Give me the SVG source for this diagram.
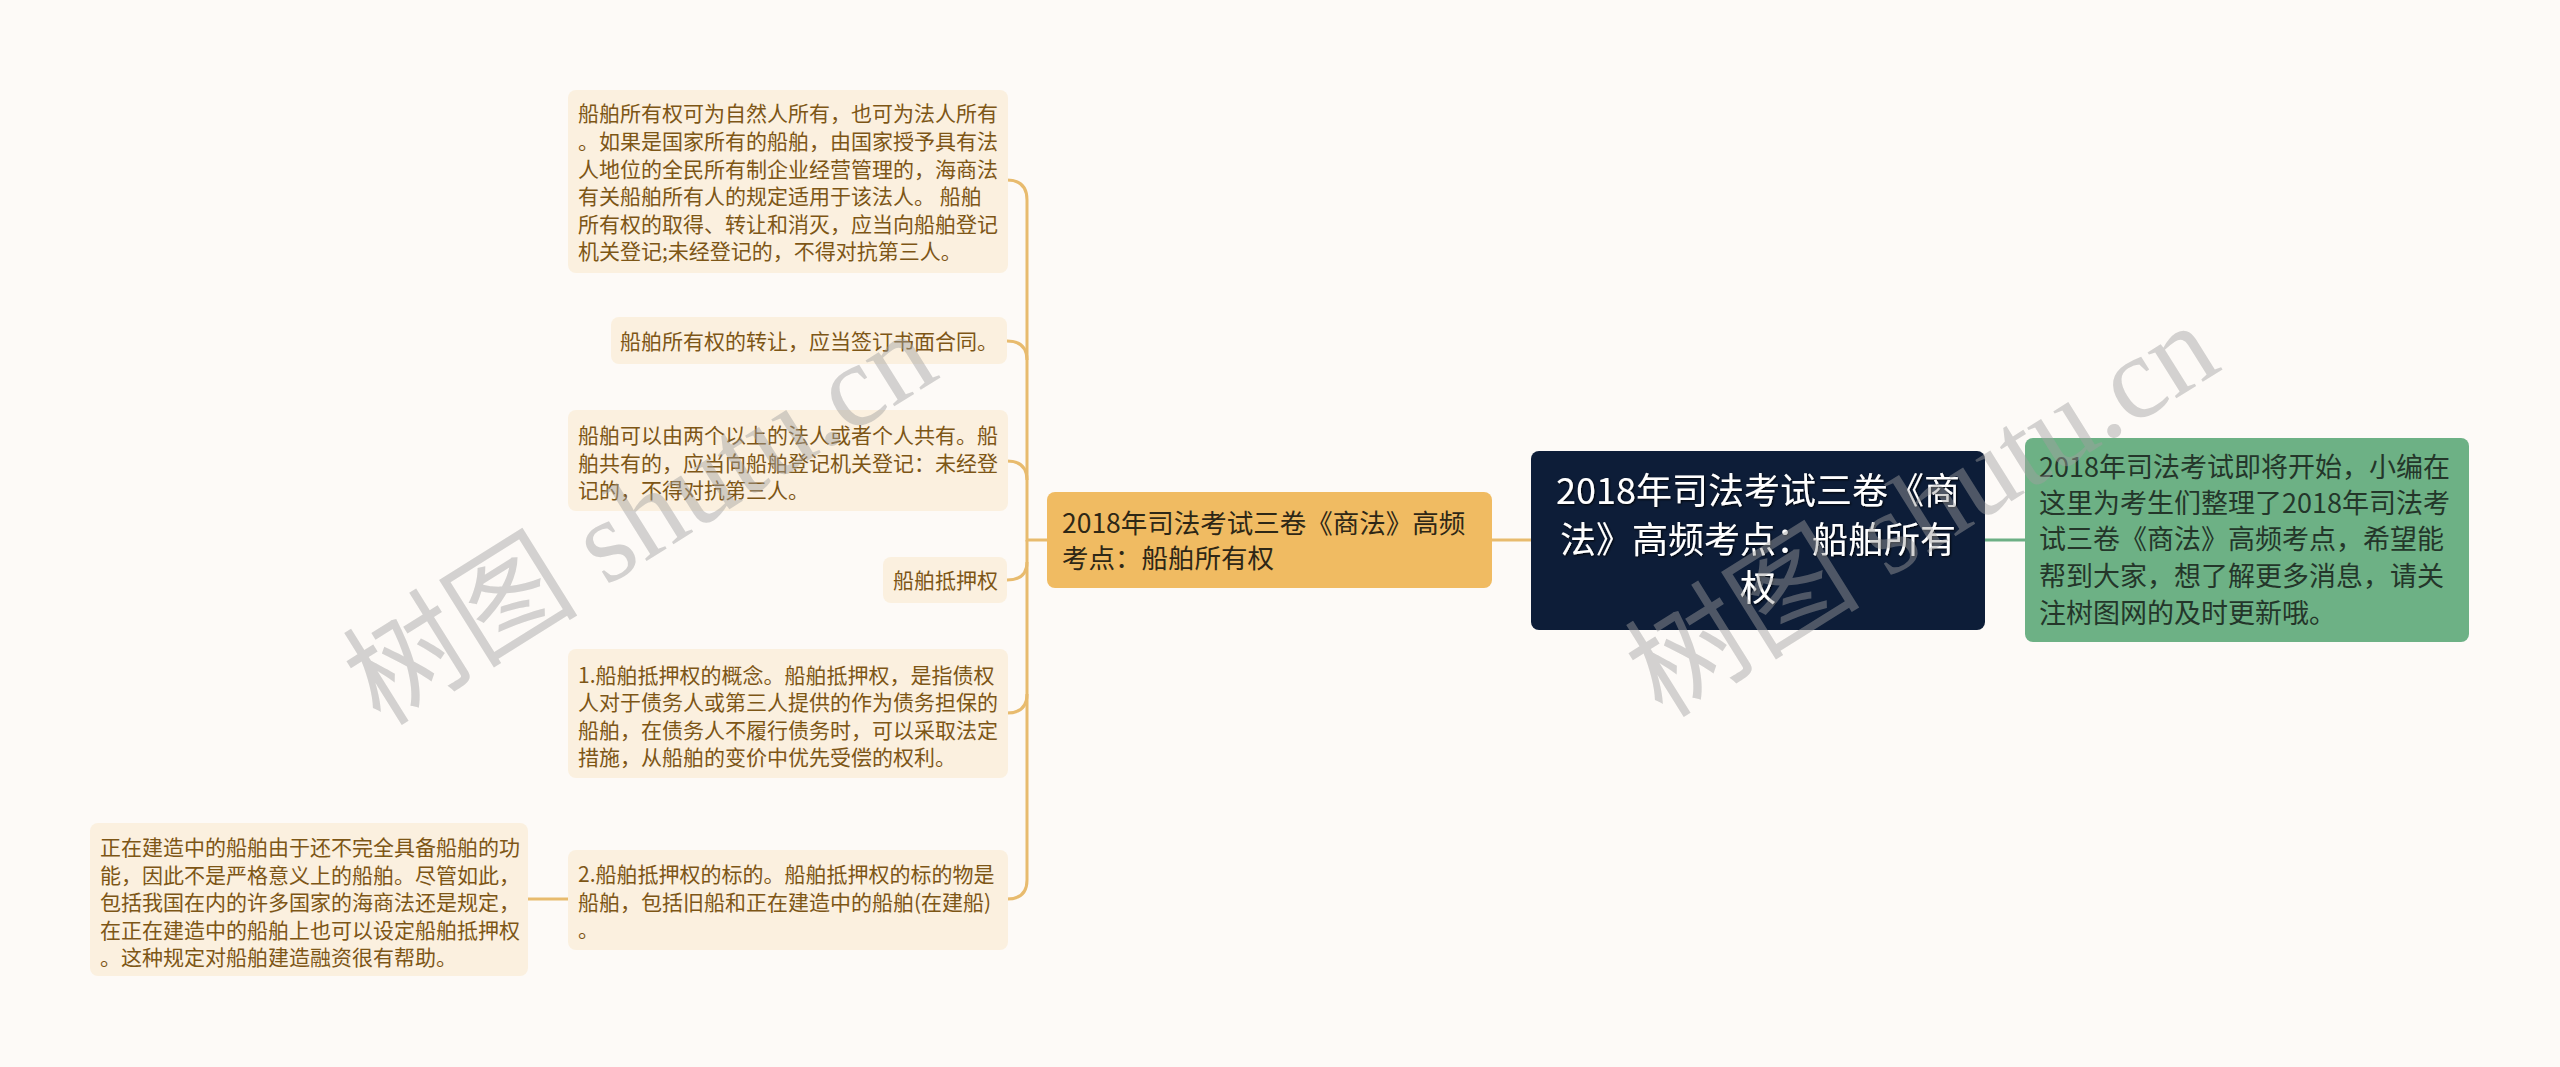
<svg xmlns="http://www.w3.org/2000/svg" width="2560" height="1067" viewBox="0 0 2560 1067">
<defs>
<style>
.bg{fill:#fdfaf7}
.leaf{fill:#fbf0df}
.lt{font-family:"Noto Sans CJK SC","Noto Sans",sans-serif;font-size:21px;fill:#7d5616;white-space:pre}
.conn{fill:none;stroke:#e8bb6e;stroke-width:3}
.gconn{fill:none;stroke:#6daf85;stroke-width:3}
.ot{font-family:"Noto Sans CJK SC","Noto Sans",sans-serif;font-size:26.5px;fill:#2e2716}
.rt{font-family:"Noto Sans CJK SC","Noto Sans",sans-serif;font-size:36px;fill:#ffffff;text-anchor:middle}
.gt{font-family:"Noto Sans CJK SC","Noto Sans",sans-serif;font-size:27px;fill:#24362a}
.wm{font-family:"Liberation Serif","Noto Sans CJK SC",serif;font-size:118px;fill:#a0a0a0;fill-opacity:0.45;text-anchor:middle}
</style>
<filter id="sh" x="-5%" y="-5%" width="110%" height="110%">
<feDropShadow dx="1" dy="1" stdDeviation="0.8" flood-color="#000" flood-opacity="0.9"/>
</filter>
</defs>
<rect class="bg" x="0" y="0" width="2560" height="1067"/>

<g id="connectors">
<path class="conn" d="M1047,540 H1027 V200 Q1027,180 1007,180"/>
<path class="conn" d="M1027,360 Q1027,341 1007,341"/>
<path class="conn" d="M1027,480 Q1027,461 1007,461"/>
<path class="conn" d="M1027,562 Q1027,580 1007,580"/>
<path class="conn" d="M1027,540 V694 Q1027,713 1007,713"/>
<path class="conn" d="M1027,694 V880 Q1027,899 1007,899"/>
<path class="conn" d="M568,899 H528"/>
<path class="conn" d="M1492,540 H1531"/>
<path class="gconn" d="M1985,540 H2025"/>
</g>

<g id="root">
<rect x="1531" y="451" width="454" height="179" rx="8" fill="#0d1d38"/>
<g filter="url(#sh)">
<text class="rt" x="1758" y="504">2018年司法考试三卷《商</text>
<text class="rt" x="1758" y="553">法》高频考点：船舶所有</text>
<text class="rt" x="1758" y="601">权</text>
</g>
</g>

<g id="summary">
<rect x="2025" y="438" width="444" height="204" rx="8" fill="#6db185"/>
<text class="gt" x="2039" y="477">2018年司法考试即将开始，小编在</text>
<text class="gt" x="2039" y="513">这里为考生们整理了2018年司法考</text>
<text class="gt" x="2039" y="549">试三卷《商法》高频考点，希望能</text>
<text class="gt" x="2039" y="586">帮到大家，想了解更多消息，请关</text>
<text class="gt" x="2039" y="623">注树图网的及时更新哦。</text>
</g>

<g id="topic">
<rect x="1047" y="492" width="445" height="96" rx="8" fill="#f0bb62"/>
<text class="ot" x="1062" y="533">2018年司法考试三卷《商法》高频</text>
<text class="ot" x="1062" y="568">考点：船舶所有权</text>
</g>

<g id="leaf1">
<rect class="leaf" x="568" y="90" width="440" height="183" rx="8"/>
<text class="lt" x="578" y="121">船舶所有权可为自然人所有，也可为法人所有</text>
<text class="lt" x="578" y="149">。如果是国家所有的船舶，由国家授予具有法</text>
<text class="lt" x="578" y="177">人地位的全民所有制企业经营管理的，海商法</text>
<text class="lt" x="578" y="204">有关船舶所有人的规定适用于该法人。 船舶</text>
<text class="lt" x="578" y="232">所有权的取得、转让和消灭，应当向船舶登记</text>
<text class="lt" x="578" y="259">机关登记;未经登记的，不得对抗第三人。</text>
</g>

<g id="leaf2">
<rect class="leaf" x="611" y="317" width="396" height="47" rx="8"/>
<text class="lt" x="620" y="349">船舶所有权的转让，应当签订书面合同。</text>
</g>

<g id="leaf3">
<rect class="leaf" x="568" y="410" width="440" height="101" rx="8"/>
<text class="lt" x="578" y="443">船舶可以由两个以上的法人或者个人共有。船</text>
<text class="lt" x="578" y="471">舶共有的，应当向船舶登记机关登记：未经登</text>
<text class="lt" x="578" y="498">记的，不得对抗第三人。</text>
</g>

<g id="leaf4">
<rect class="leaf" x="883" y="557" width="124" height="46" rx="8"/>
<text class="lt" x="893" y="588">船舶抵押权</text>
</g>

<g id="leaf5">
<rect class="leaf" x="568" y="649" width="440" height="129" rx="8"/>
<text class="lt" x="578" y="683">1.船舶抵押权的概念。船舶抵押权，是指债权</text>
<text class="lt" x="578" y="710">人对于债务人或第三人提供的作为债务担保的</text>
<text class="lt" x="578" y="738">船舶，在债务人不履行债务时，可以采取法定</text>
<text class="lt" x="578" y="765">措施，从船舶的变价中优先受偿的权利。</text>
</g>

<g id="leaf6">
<rect class="leaf" x="568" y="850" width="440" height="100" rx="8"/>
<text class="lt" x="578" y="882">2.船舶抵押权的标的。船舶抵押权的标的物是</text>
<text class="lt" x="578" y="910">船舶，包括旧船和正在建造中的船舶(在建船)</text>
<text class="lt" x="578" y="937">。</text>
</g>

<g id="leaf7">
<rect class="leaf" x="90" y="823" width="438" height="153" rx="8"/>
<text class="lt" x="100" y="855">正在建造中的船舶由于还不完全具备船舶的功</text>
<text class="lt" x="100" y="883">能，因此不是严格意义上的船舶。尽管如此，</text>
<text class="lt" x="100" y="910">包括我国在内的许多国家的海商法还是规定，</text>
<text class="lt" x="100" y="938">在正在建造中的船舶上也可以设定船舶抵押权</text>
<text class="lt" x="100" y="965">。这种规定对船舶建造融资很有帮助。</text>
</g>

<g id="watermarks">
<text class="wm" transform="translate(640,518) rotate(-32)" x="0" y="40">树图 shutu.cn</text>
<text class="wm" transform="translate(1922,510) rotate(-32)" x="0" y="40">树图 shutu.cn</text>
</g>
</svg>
